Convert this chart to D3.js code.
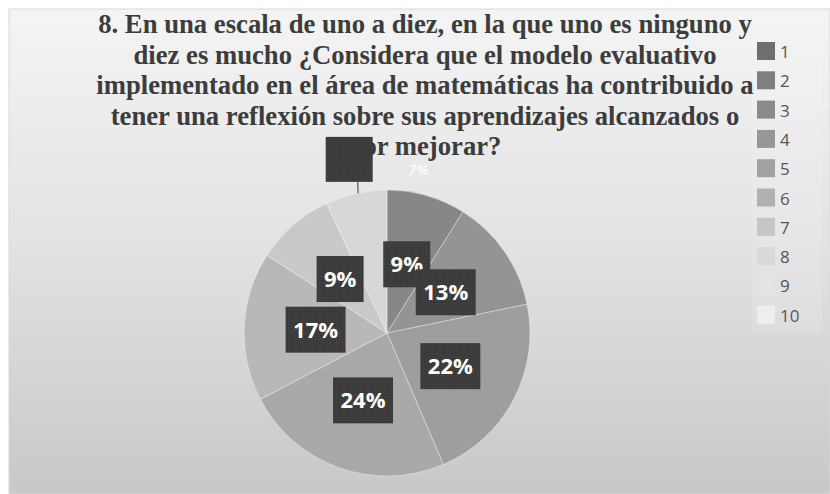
<!DOCTYPE html>
<html>
<head>
<meta charset="utf-8">
<script src="https://cdn.jsdelivr.net/npm/d3@7"></script>
<style>
  html, body { margin: 0; padding: 0; background: #fff; }
  svg { display: block; }
</style>
</head>
<body>
<div id="chart"></div>
<script>
// datos
const categorias = ["1", "2", "3", "4", "5", "6", "7", "8", "9", "10"];
const porcentajes = [9, 13, 22, 24, 17, 9, 7, 0, 0, 0];
const tituloLineas = [
    "8. En una escala de uno a diez, en la que uno es ninguno y",
    "diez es mucho ¿Considera que el modelo evaluativo",
    "implementado en el área de matemáticas ha contribuido a",
    "tener una reflexión sobre sus aprendizajes alcanzados o",
    "por mejorar?"
];

const width = 830, height = 494;
const coloresLeyenda = ["#6f6f6f", "#7f7f7f", "#8b8b8b", "#979797", "#a1a1a1",
    "#b1b1b1", "#c6c6c6", "#d9d9d9", "#e3e3e3", "#eeeeee"];
const coloresPie = ["#878787", "#949494", "#9e9e9e", "#a9a9a9", "#b8b8b8",
    "#c9c9c9", "#d7d7d7", "#e0e0e0", "#e6e6e6", "#efefef"];

const svg = d3.select("#chart").append("svg")
    .attr("width", width)
    .attr("height", height);

const defs = svg.append("defs");
const grad = defs.append("linearGradient")
    .attr("id", "fondo")
    .attr("x1", 0).attr("y1", 0).attr("x2", 0).attr("y2", 1);
grad.append("stop").attr("offset", "0%").attr("stop-color", "#f4f4f4");
grad.append("stop").attr("offset", "45%").attr("stop-color", "#e4e4e4");
grad.append("stop").attr("offset", "100%").attr("stop-color", "#c8c8c8");

// textura punteada de las etiquetas
const pat = defs.append("pattern")
    .attr("id", "puntos")
    .attr("width", 3).attr("height", 3)
    .attr("patternUnits", "userSpaceOnUse");
pat.append("rect").attr("width", 3).attr("height", 3).attr("fill", "#3b3b3b");
pat.append("rect").attr("width", 1).attr("height", 1).attr("fill", "#484848");

// fondo del grafico
svg.append("rect")
    .attr("x", 9).attr("y", 9)
    .attr("width", width - 9).attr("height", height - 9)
    .attr("fill", "url(#fondo)")
    .attr("stroke", "#d8d8d8");

// pie
const cx = 387, cy = 333, radio = 143;
const pie = d3.pie().sort(null).value(d => d);
const arcos = pie(porcentajes);
const arco = d3.arc().innerRadius(0).outerRadius(radio);

const g = svg.append("g").attr("transform", `translate(${cx},${cy})`);

g.selectAll("path.slice")
    .data(arcos.filter(d => d.value > 0))
    .enter().append("path")
    .attr("class", "slice")
    .attr("d", arco)
    .attr("fill", d => coloresPie[d.index])
    .attr("stroke", "rgba(255,255,255,0.35)")
    .attr("stroke-width", 1);

// etiquetas
const arcoEtiqueta = d3.arc().innerRadius(0).outerRadius(radio);
const arcoFuera = d3.arc().innerRadius(radio * 1.24).outerRadius(radio * 1.24);
const arcoBorde = d3.arc().innerRadius(radio).outerRadius(radio);

arcos.filter(d => d.value > 0).forEach(d => {
    const texto = d.value + "%";
    const bw = texto.length > 2 ? 60 : 47, bh = 46;
    if (d.index === 6) {
        // la etiqueta del 7% quedo fuera del pie con linea guia
        const [ox, oy] = arcoFuera.centroid(d);
        const [ex, ey] = arcoBorde.centroid(d);
        g.append("line")
            .attr("x1", ox + 9).attr("y1", oy + 22)
            .attr("x2", ex + 2).attr("y2", ey)
            .attr("stroke", "#555").attr("stroke-width", 1.2);
        g.append("rect")
            .attr("x", ox - 23).attr("y", oy - 23)
            .attr("width", 47).attr("height", 45)
            .attr("fill", "url(#puntos)");
        g.append("text")
            .attr("x", ox + 70).attr("y", oy + 15)
            .attr("text-anchor", "middle")
            .attr("font-family", "'Open Sans', sans-serif")
            .attr("font-weight", "bold")
            .attr("font-style", "italic")
            .attr("font-size", 14)
            .attr("fill", "#fafafa")
            .text(texto);
        return;
    }
    const [x, y] = arcoEtiqueta.centroid(d);
    g.append("rect")
        .attr("x", x - bw / 2).attr("y", y - bh / 2)
        .attr("width", bw).attr("height", bh)
        .attr("fill", "url(#puntos)");
    g.append("text")
        .attr("x", x).attr("y", y + 8)
        .attr("text-anchor", "middle")
        .attr("font-family", "'Open Sans', sans-serif")
        .attr("font-weight", "bold")
        .attr("font-size", 22)
        .attr("fill", "#ffffff")
        .text(texto);
});

// titulo
const titulo = svg.append("g");
const lineas = titulo.selectAll("text")
    .data(tituloLineas)
    .enter().append("text")
    .attr("x", 425)
    .attr("y", (d, i) => 33 + i * 30.5)
    .attr("text-anchor", "middle")
    .attr("font-family", "'Liberation Serif', 'Times New Roman', serif")
    .attr("font-weight", "bold")
    .attr("font-size", 22)
    .attr("fill", "#3c3c3c")
    .text(d => d);
// ajustar al ancho de la primera linea
const anchoReal = lineas.node().getComputedTextLength();
const escala = 654 / anchoReal;
lineas.attr("font-size", 22 * escala);

// leyenda
svg.append("rect")
    .attr("x", 752).attr("y", 36)
    .attr("width", 70).attr("height", 298)
    .attr("fill", "rgba(255,255,255,0.12)");

const y0 = 51, paso = 29.3;
const leyenda = svg.selectAll("g.ley")
    .data(categorias)
    .enter().append("g")
    .attr("class", "ley")
    .attr("transform", (d, i) => `translate(757,${y0 + i * paso})`);

leyenda.append("rect")
    .attr("x", 0).attr("y", -9)
    .attr("width", 18).attr("height", 18)
    .attr("fill", (d, i) => coloresLeyenda[i]);

leyenda.append("text")
    .attr("x", 23).attr("y", 7)
    .attr("font-family", "'Open Sans', sans-serif")
    .attr("font-size", 17)
    .attr("fill", "#555")
    .text(d => d);
</script>
</body>
</html>
